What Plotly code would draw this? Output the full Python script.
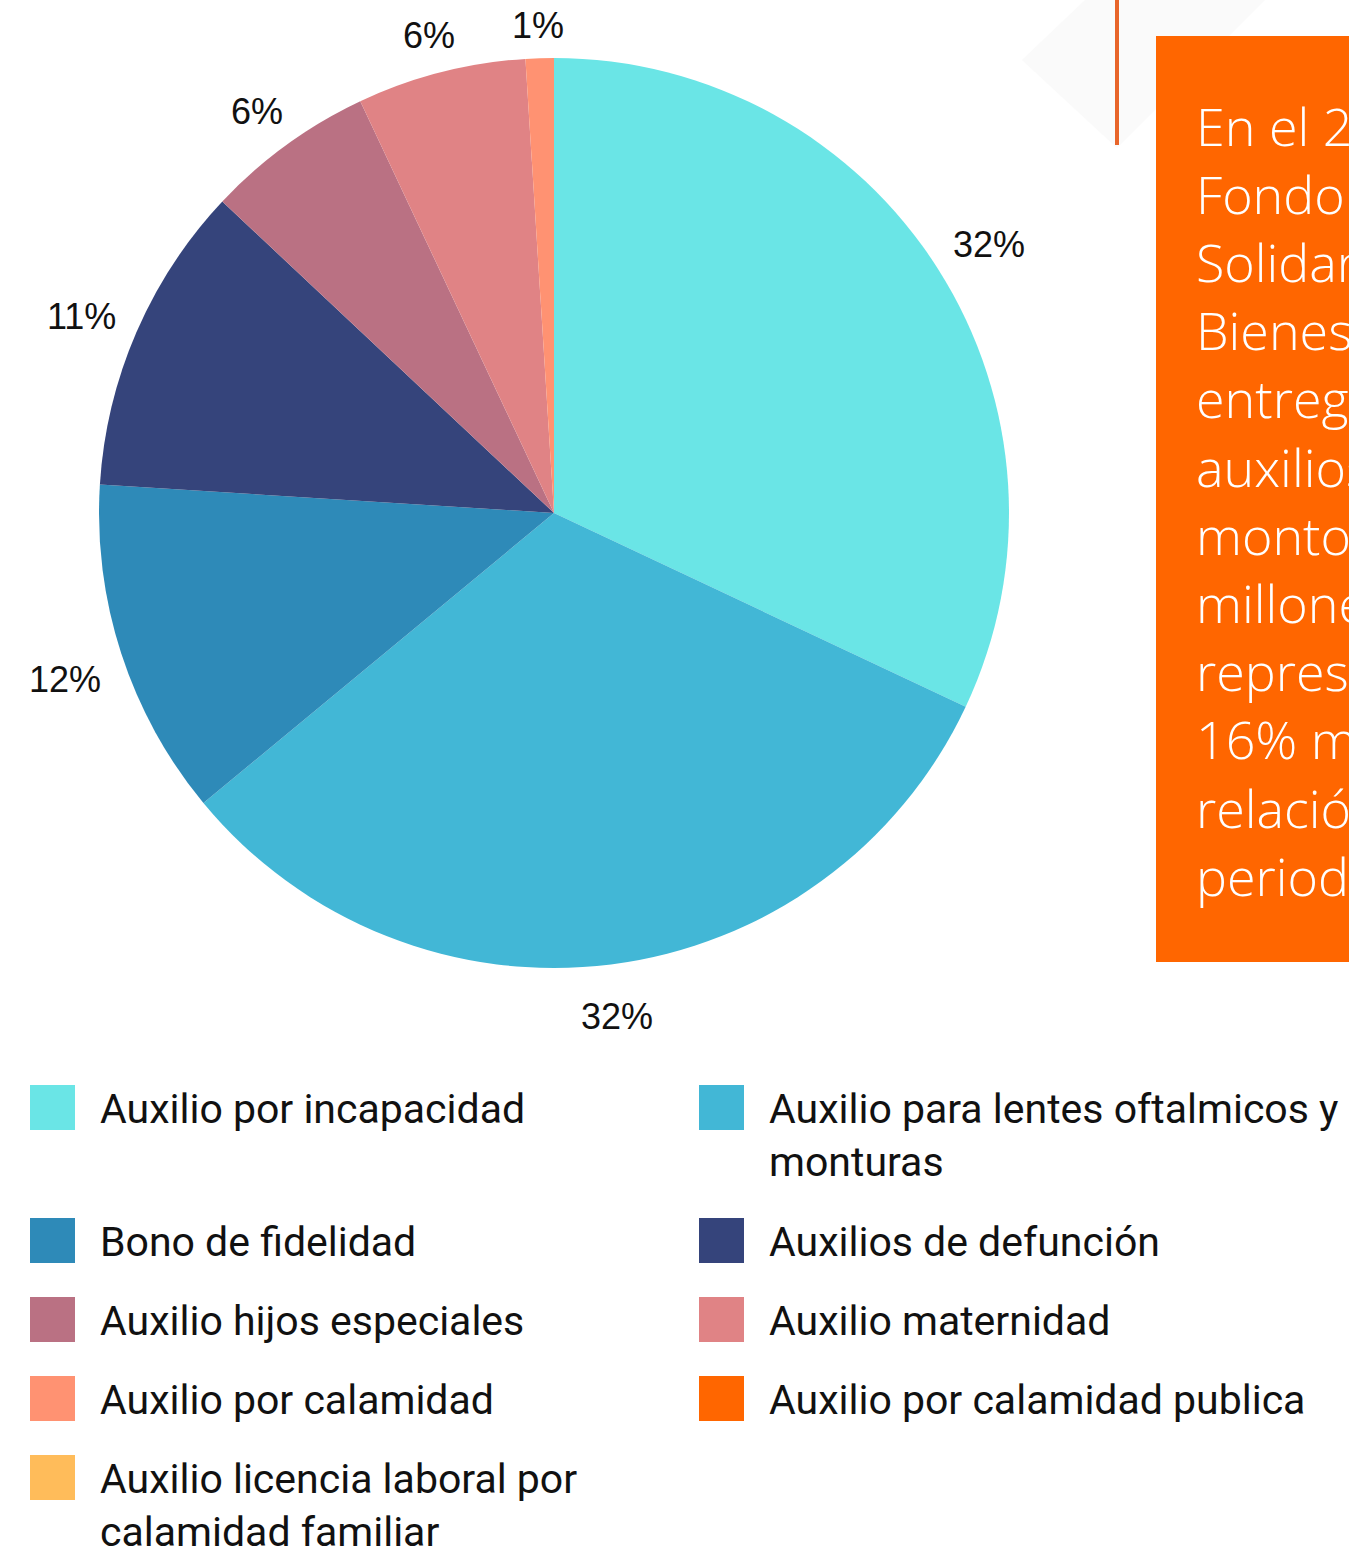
import math
import plotly.graph_objects as go

# ---- data ----
categories = [
    "Auxilio por incapacidad",
    "Auxilio para lentes oftalmicos y monturas",
    "Bono de fidelidad",
    "Auxilios de defunción",
    "Auxilio hijos especiales",
    "Auxilio maternidad",
    "Auxilio por calamidad",
    "Auxilio por calamidad publica",
    "Auxilio licencia laboral por calamidad familiar",
]
shares = [32, 32, 12, 11, 6, 6, 1, 0, 0]
colors = ["#6AE5E6", "#42B7D6", "#2E8AB8", "#35447B", "#BA7183",
          "#E08385", "#FF9272", "#FF6600", "#FFBC5A"]
legend_labels = [
    "Auxilio por incapacidad",
    "Auxilio para lentes oftalmicos y<br>monturas",
    "Bono de fidelidad",
    "Auxilios de defunción",
    "Auxilio hijos especiales",
    "Auxilio maternidad",
    "Auxilio por calamidad",
    "Auxilio por calamidad publica",
    "Auxilio licencia laboral por<br>calamidad familiar",
]
box_lines = ["En el 2022, el", "Fondo de", "Solidaridad y", "Bienestar",
             "entregó", "auxilios por un", "monto de", "millones, que",
             "representa un", "16% más en", "relación al", "periodo anterior."]

W, H = 1349, 1552


def px(x):
    return x / W


def py(y):
    return 1 - y / H


# pie placement (layout, in pixels)
CX, CY, R = 554, 513, 455
LABEL_SIZE = 36

fig = go.Figure()
fig.add_trace(go.Pie(
    labels=categories,
    values=shares,
    sort=False,
    direction="clockwise",
    rotation=0,
    marker=dict(colors=colors, line=dict(color="white", width=0)),
    textinfo="none",
    domain=dict(x=[px(CX - R), px(CX + R)], y=[py(CY + R), py(CY - R)]),
    showlegend=False,
    hoverinfo="label+percent",
))

shapes = []
annotations = []


def text_width(s, size):
    return sum(0.889 if ch == "%" else 0.556 for ch in s) * size


# percentage labels placed just outside each slice, at its mid angle
total = sum(shares)
cum = 0
for v in shares:
    if v > 0:
        ang = math.radians((cum + v / 2) / total * 360)
        txt = f"{round(v / total * 100)}%"
        half_w = text_width(txt, LABEL_SIZE) / 2
        dist = R + 18 + half_w * abs(math.sin(ang)) + 22 * abs(math.cos(ang))
        lx = CX + dist * math.sin(ang)
        ly = CY - dist * math.cos(ang) + 8
        annotations.append(dict(
            xref="paper", yref="paper", x=px(lx), y=py(ly),
            xanchor="center", yanchor="middle", showarrow=False,
            text=txt,
            font=dict(family="Liberation Sans, Arial, sans-serif", size=LABEL_SIZE, color="#111111"),
        ))
    cum += v

# faint background diamond and orange line (decor at top right)
shapes.append(dict(type="path", xref="paper", yref="paper",
                   path=f"M {px(1022)} {py(60)} L {px(1085)} {py(0)} L {px(1265)} {py(0)} L {px(1117)} {py(148)} Z",
                   fillcolor="#FAFAFA", line=dict(width=0), layer="below"))
shapes.append(dict(type="line", xref="paper", yref="paper",
                   x0=px(1117), x1=px(1117), y0=py(0), y1=py(145),
                   line=dict(color="#E8652A", width=4)))

# orange text box
shapes.append(dict(type="rect", xref="paper", yref="paper",
                   x0=px(1156), x1=px(1360), y0=py(962), y1=py(36),
                   fillcolor="#FF6600", line=dict(width=0)))
for i, line in enumerate(box_lines):
    annotations.append(dict(
        xref="paper", yref="paper", x=px(1194), y=py(125 + i * 68.2),
        xanchor="left", yanchor="middle", showarrow=False, text=line,
        font=dict(family="Open Sans, sans-serif", size=52, color="white", weight=300),
    ))

# manual legend
row_tops = [1085, 1218, 1297, 1376, 1455]
col_x = [30, 699]
sw = 45
for i, (lab, col) in enumerate(zip(legend_labels, colors)):
    r, c = divmod(i, 2)
    x0 = col_x[c]
    y0 = row_tops[r]
    shapes.append(dict(type="rect", xref="paper", yref="paper",
                       x0=px(x0), x1=px(x0 + sw), y0=py(y0 + sw), y1=py(y0),
                       fillcolor=col, line=dict(width=0)))
    annotations.append(dict(
        xref="paper", yref="paper", x=px(x0 + 68), y=py(y0 + sw / 2 - 25),
        xanchor="left", yanchor="top", align="left", showarrow=False, text=lab,
        font=dict(family="Roboto, sans-serif", size=41, color="#111111"),
    ))

fig.update_layout(
    width=W, height=H,
    margin=dict(l=0, r=0, t=0, b=0),
    paper_bgcolor="white",
    plot_bgcolor="white",
    shapes=shapes,
    annotations=annotations,
    showlegend=False,
)

fig.write_html("out.html", config={"displayModeBar": False},
               post_script="document.body.style.margin='0';")
